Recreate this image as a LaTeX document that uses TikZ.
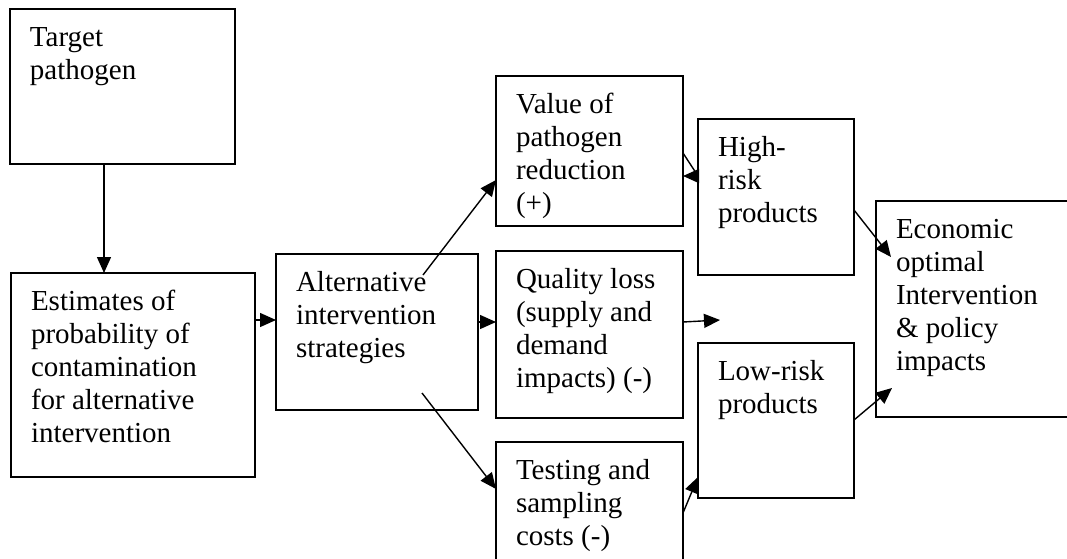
\documentclass[tikz,border=0pt]{standalone}
\usepackage{fontspec}
\setmainfont{Liberation Serif}
\usetikzlibrary{arrows.meta}
\newcommand{\boxtext}[3]{\parbox[t][#2][t]{#1}{\raggedright\leftskip=10pt\rule{0pt}{18.5pt}#3}}
\begin{document}
\begin{tikzpicture}[x=0.5pt,y=-0.5pt,
  font=\fontsize{14.5}{16.5}\selectfont,
  box/.style={draw, line width=0.9pt, inner sep=0pt, outer sep=0pt, anchor=north west},
  arr/.style={line width=0.7pt, -{Triangle[length=8pt,width=7pt]}}]
\clip (0,0) rectangle (1067,558);
\node[box] (tp) at (10,9) {\boxtext{112.5pt}{77.5pt}{Target\\pathogen}};
\node[box] (est) at (11,273) {\boxtext{122pt}{102pt}{Estimates of\\probability of\\contamination\\for alternative\\intervention}};
\node[box] (alt) at (276,254) {\boxtext{101pt}{78pt}{Alternative\\intervention\\strategies}};
\node[box] (val) at (496,76) {\boxtext{93.5pt}{75pt}{Value of\\pathogen\\reduction\\(+)}};
\node[box] (qual) at (496,251) {\boxtext{93.5pt}{83.5pt}{Quality loss\\(supply and\\demand\\impacts) (-)}};
\node[box] (test) at (496,442) {\boxtext{93.5pt}{61pt}{Testing and\\sampling\\costs (-)}};
\node[box] (high) at (698,119) {\boxtext{78pt}{78pt}{High-\\risk\\products}};
\node[box] (low) at (698,343) {\boxtext{78pt}{77.5pt}{Low-risk\\products}};
\node[box] (econ) at (876,201) {\boxtext{100pt}{108pt}{Economic\\optimal\\Intervention\\\& policy\\impacts}};
\coordinate (qend) at (720,320);
% connectors
\draw[arr] (104,0 |- tp.south) -- (104,0 |- est.north);
\draw[arr] (est.east |- 0,320) -- (alt.west |- 0,320);
\draw[arr] ([shift={(147,21)}]alt.north west) -- (val.west |- 0,180);
\draw[arr] (alt.east |- 0,322) -- (qual.west |- 0,322);
\draw[arr] ([shift={(146,139)}]alt.north west) -- (test.west |- 0,489);
\draw[arr] (qual.east |- 0,322) -- (qend);
\draw[arr] (test.east |- 0,513) -- (low.west |- 0,477);
\draw[arr] (low.east |- 0,420) -- ([shift={(16,187)}]econ.north west);
\draw[arr] (high.east |- 0,210) -- ([shift={(15,56)}]econ.north west);
\draw[arr] (val.east |- 0,153) -- (high.west |- 0,176) -- (val.east |- 0,176);
\end{tikzpicture}
\end{document}
